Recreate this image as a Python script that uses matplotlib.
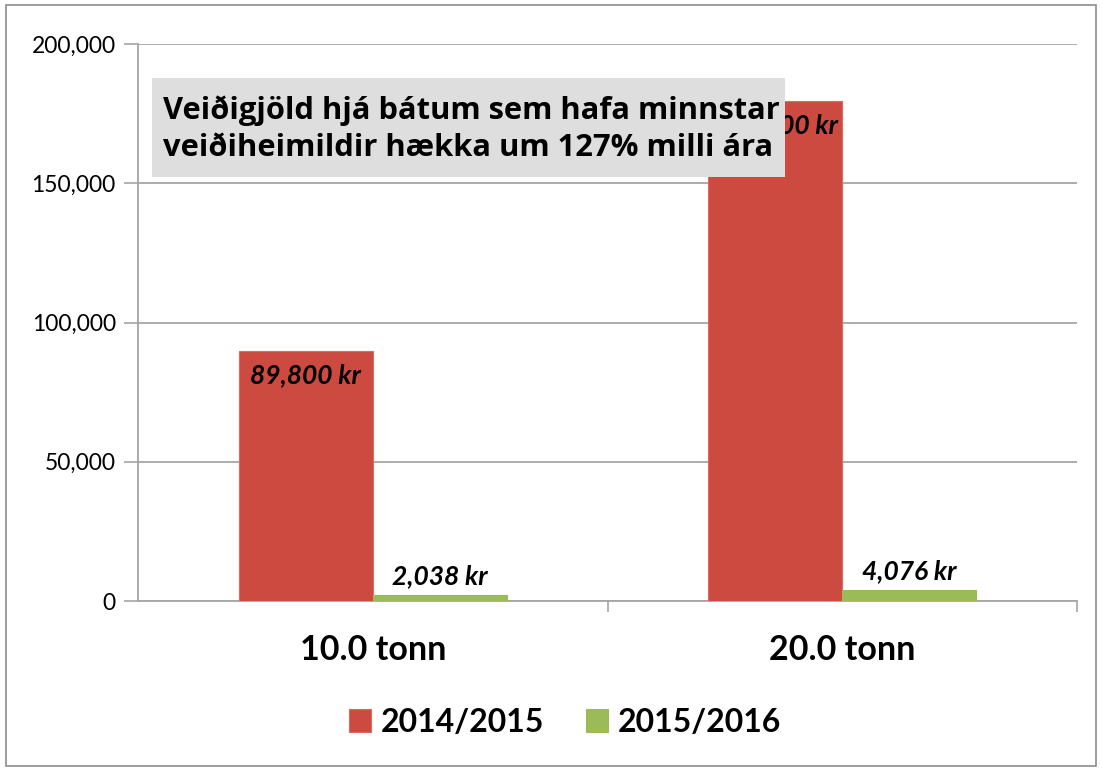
import matplotlib
matplotlib.use("Agg")
import matplotlib.pyplot as plt
from matplotlib.patches import Rectangle
from matplotlib.ticker import FuncFormatter

# data
categories = ["10.0 tonn", "20.0 tonn"]
seasons = ["2014/2015", "2015/2016"]
fee_1415 = [89800, 179600]
fee_1516 = [2038, 4076]
title_txt = "Veiðigjöld hjá bátum sem hafa minnstar\nveiðiheimildir hækka um 127% milli ára"

red = "#cd4a40"
green = "#9bbb59"
grid_col = "#a6a6a6"

plt.rcParams['font.family'] = ['Lato', 'DejaVu Sans']

W, H = 1102, 771
fig = plt.figure(figsize=(11.02, 7.71), dpi=100)
ax = fig.add_axes([138/W, 1 - 601/H, (1077-138)/W, (601-44)/H])

x = range(len(categories))
w = 0.285
b1 = ax.bar([i - w/2 for i in x], fee_1415, w, color=red, edgecolor="#e06a60", linewidth=0.8, label=seasons[0], zorder=3)
b2 = ax.bar([i + w/2 for i in x], fee_1516, w, color=green, edgecolor=green, linewidth=0.8, label=seasons[1], zorder=3)

# value labels
for i, v in enumerate(fee_1415):
    ax.text(i - w/2, v - 4500, f"{v:,} kr", ha="center", va="top", fontsize=19,
            fontweight="bold", style="italic", zorder=4)
for i, v in enumerate(fee_1516):
    ax.text(i + w/2, v + 2500, f"{v:,} kr", ha="center", va="bottom", fontsize=19,
            fontweight="bold", style="italic", zorder=4)

ax.set_xlim(-0.5, 1.5)
ax.set_ylim(0, 200000)
ax.set_yticks(range(0, 200001, 50000))
ax.yaxis.set_major_formatter(FuncFormatter(lambda v, p: f"{int(v):,}"))
ax.grid(axis="y", color=grid_col, linewidth=1.3, zorder=0)
ax.set_axisbelow(True)

ax.set_xticks(list(x))
ax.set_xticklabels(categories, fontsize=24.5, fontweight="bold")
ax.set_xticks([0.5, 1.5], minor=True)
ax.tick_params(axis="x", which="major", length=0, pad=24)
ax.tick_params(axis="x", which="minor", length=8, color=grid_col, width=1.2)
ax.tick_params(axis="y", length=10, color=grid_col, width=1.2, labelsize=16.5, pad=6)

for s in ["top", "right"]:
    ax.spines[s].set_visible(False)
for s in ["left", "bottom"]:
    ax.spines[s].set_color(grid_col)
    ax.spines[s].set_linewidth(1.3)

# annotation box (covers part of the tall bar's label, as in the original)
fig.patches.append(Rectangle((152/W, 1 - 177/H), (785-152)/W, (177-78)/H, transform=fig.transFigure,
                             facecolor="#dedede", edgecolor="none", zorder=6))
fig.text(163/W, 1 - 129/H, title_txt, ha="left", va="center", fontsize=22.2,
         fontweight="bold", linespacing=1.32, zorder=7, family=['Open Sans', 'DejaVu Sans'])

fig.legend(handles=[b1, b2], labels=seasons, loc="center", bbox_to_anchor=(565/W, 1 - 722/H),
           ncol=2, frameon=False, prop={'weight': 'bold', 'size': 23},
           handlelength=0.7, handleheight=0.7, handletextpad=0.3, columnspacing=1.3)

# outer border
fig.patches.append(Rectangle((6/W, 5/H), 1090/W, 761/H, transform=fig.transFigure,
                             fill=False, edgecolor="#8c8c8c", linewidth=1.2))

fig.savefig("out.png", dpi=100)
